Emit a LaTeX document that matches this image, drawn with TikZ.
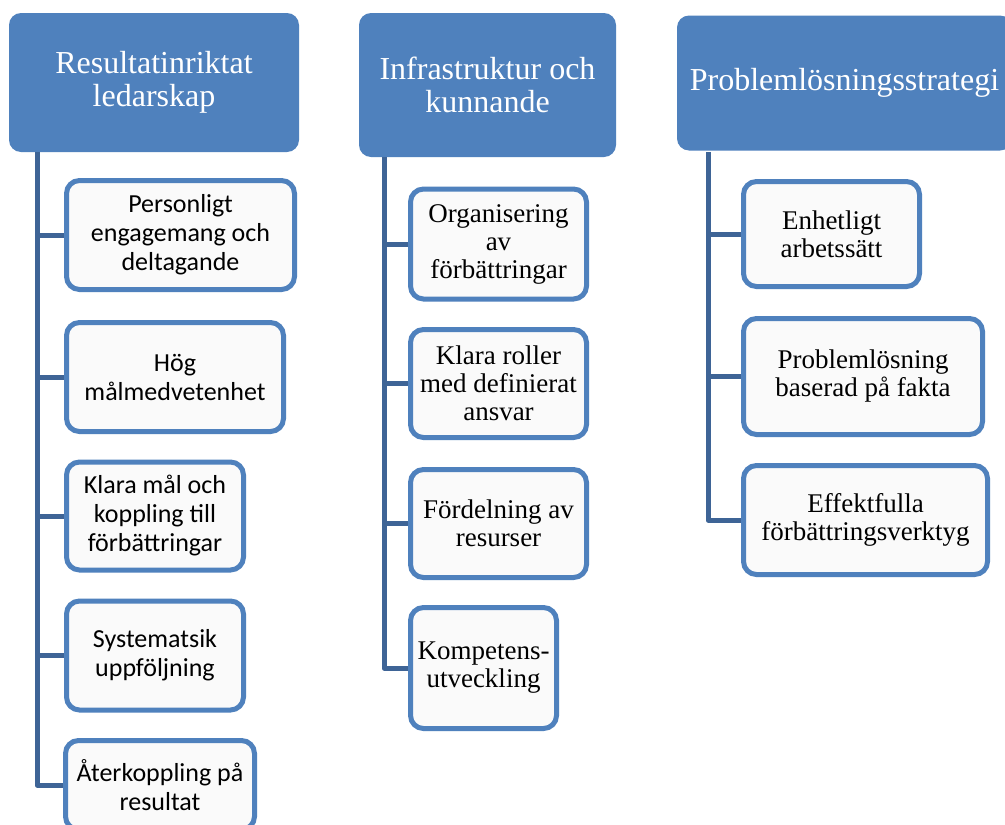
\documentclass[tikz,border=0pt]{standalone}
\usepackage{fontspec}
\setmainfont{Liberation Serif}
\newfontfamily\calib{Carlito}
\definecolor{hdrblue}{RGB}{79,129,189}
\definecolor{bordblue}{RGB}{79,129,189}
\definecolor{connblue}{RGB}{62,100,150}
\definecolor{boxfill}{RGB}{250,250,250}
\tikzset{
  hdr/.style={fill=hdrblue, rounded corners=12pt, inner sep=0pt, align=center,
    text=white, font=\fontsize{32}{33}\selectfont},
  child/.style={draw=bordblue, line width=5pt, fill=boxfill, rounded corners=13pt,
    inner sep=0pt, align=center, text=black},
  sanstxt/.style={font=\calib\fontsize{26}{29}\selectfont},
  seriftxt/.style={font=\fontsize{27}{28}\selectfont},
  conn/.style={draw=connblue, line width=5pt, line join=round}
}
\begin{document}
\begin{tikzpicture}[x=1pt,y=-1pt]
\path[clip] (0,0) rectangle (1005,825);
\useasboundingbox (0,0) rectangle (1005,825);
\fill[white] (0,0) rectangle (1005,825);

% headers
\node[hdr, minimum width=290pt, minimum height=139pt] (h1) at (154,82.5) {Resultatinriktat\\ledarskap};
\node[hdr, minimum width=257pt, minimum height=144pt] (h2) at (487.5,85) {Infrastruktur och\\kunnande};
\node[hdr, minimum width=335pt, minimum height=135pt] (h3) at (844.5,83) {Problemlösningsstrategi};

% column 1
\node[child, sanstxt, minimum width=228pt, minimum height=109pt] (c11) at (180.5,235) {Personligt\\engagemang och\\deltagande};
\node[child, sanstxt, minimum width=217pt, minimum height=109pt] (c12) at (175,377) {Hög\\målmedvetenhet};
\node[child, sanstxt, minimum width=177pt, minimum height=108pt] (c13) at (155,516) {Klara mål och\\koppling till\\förbättringar};
\node[child, sanstxt, minimum width=177pt, minimum height=109pt] (c14) at (155,655.5) {Systematsik\\uppföljning};
\node[child, sanstxt, minimum width=189pt, minimum height=89pt] (c15) at (160,785) {Återkoppling på\\resultat};

% column 2
\node[child, seriftxt, minimum width=176pt, minimum height=110pt] (c21) at (498.5,244) {Organisering\\av\\förbättringar};
\node[child, seriftxt, minimum width=176pt, minimum height=108pt] (c22) at (498.5,383.5) {Klara roller\\med definierat\\ansvar};
\node[child, seriftxt, minimum width=176pt, minimum height=108pt] (c23) at (498.5,523.5) {Fördelning av\\resurser};
\node[child, seriftxt, minimum width=146pt, minimum height=121pt] (c24) at (483.5,668) {Kompetens-\\utveckling};

% column 3
\node[child, seriftxt, minimum width=176pt, minimum height=105pt] (c31) at (831.5,234) {Enhetligt\\arbetssätt};
\node[child, seriftxt, minimum width=239pt, minimum height=116pt] (c32) at (863,376.5) {Problemlösning\\baserad på fakta};
\node[child, seriftxt, minimum width=244pt, minimum height=109pt] (c33) at (865.5,520) {Effektfulla\\förbättringsverktyg};

% trunk coordinates
\coordinate (t1) at (37,152);
\coordinate (t2) at (384,157);
\coordinate (t3) at (708,152);

% connectors
\draw[conn] (t1) |- (c15.west);
\draw[conn] (t1 |- c11.west) -- (c11.west);
\draw[conn] (t1 |- c12.west) -- (c12.west);
\draw[conn] (t1 |- c13.west) -- (c13.west);
\draw[conn] (t1 |- c14.west) -- (c14.west);

\draw[conn] (t2) |- (c24.west);
\draw[conn] (t2 |- c21.west) -- (c21.west);
\draw[conn] (t2 |- c22.west) -- (c22.west);
\draw[conn] (t2 |- c23.west) -- (c23.west);

\draw[conn] (t3) |- (c33.west);
\draw[conn] (t3 |- c31.west) -- (c31.west);
\draw[conn] (t3 |- c32.west) -- (c32.west);
\end{tikzpicture}
\end{document}
